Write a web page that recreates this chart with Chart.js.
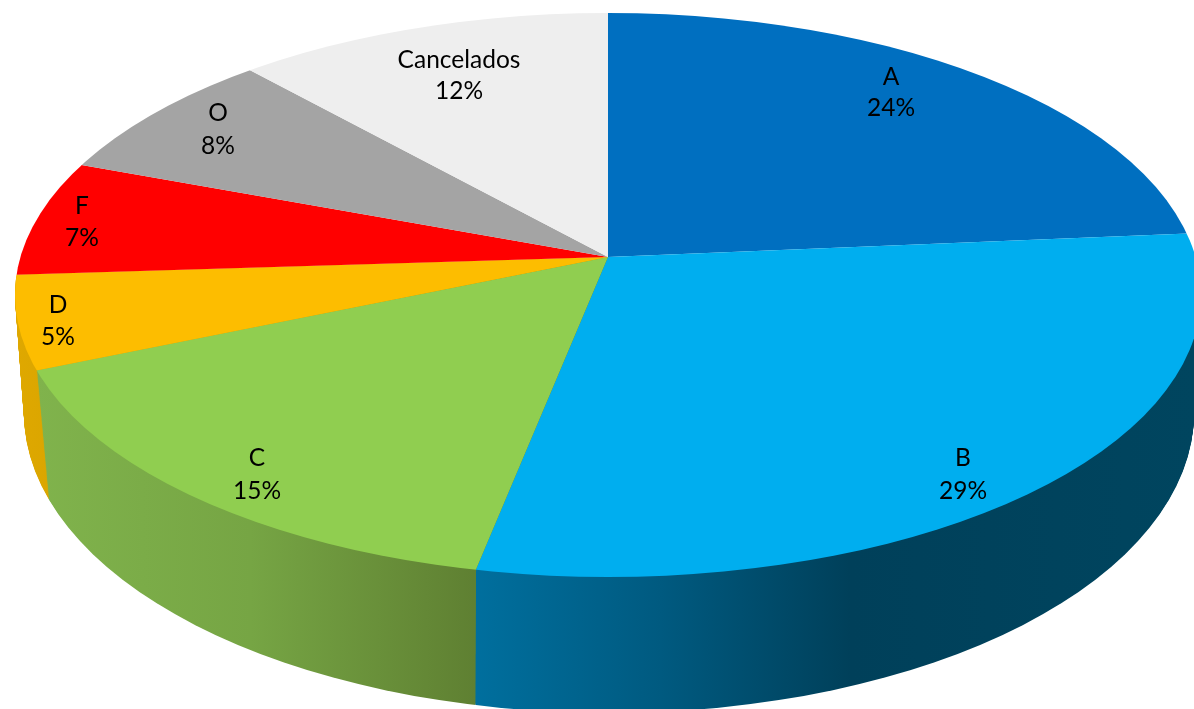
<!DOCTYPE html>
<html>
<head>
<meta charset="utf-8">
<style>html,body{margin:0;padding:0;background:#fff}canvas{display:block}</style>
<script src="https://cdn.jsdelivr.net/npm/chart.js@4/dist/chart.umd.min.js"></script>
</head>
<body>
<canvas id="c" width="1194" height="709"></canvas>
<script>
const categories = ['A', 'B', 'C', 'D', 'F', 'O', 'Cancelados'];
const shares = [23.6, 29.49, 15.49, 5.4, 6.8, 7.72, 11.5];
const faceColors = ['#006fc0', '#00aeef', '#90ce50', '#fdbd00', '#ff0000', '#a4a4a4', '#eeeeee'];

// Geometry of the perspective view (styling, not data)
const top3d = { ax: 608, ay: 257, cx: 608, cy: 295, rx: 593, ry: 282 };
const bot3d = { ax: 609, ay: 388, cx: 609, cy: 413, rx: 585, ry: 300 };
const fanX = 750, fanUp = 345, fanDown = 349;
const wallStops = {
  B: [[474, '#006f9e'], [660, '#005a80'], [850, '#00405a'], [1194, '#00455f']],
  C: [[36, '#80b34c'], [250, '#76a544'], [474, '#5f8032']],
  D: [[15, '#dfa800'], [48, '#dba600']]
};
const labelAnchors = [[891, 77], [963, 458], [257, 458], [58, 305], [82, 206], [218, 113], [459, 60.5]];
const lineGaps = [31, 33, 33, 32, 32, 33, 31];

function lerp(a, b, t) { return a + (b - a) * t; }

function drawFan(ctx, arc, g, fill) {
  // clip to the rim, then draw the library's arc stretched through the apex
  const R = arc.outerRadius;
  const saved = arc.options;
  if (fill) arc.options = Object.create(saved, { backgroundColor: { value: fill } });
  [[fanUp, -1], [fanDown, 1]].forEach(([sy, side]) => {
    if (g.lowerOnly && side < 0) return;
    ctx.save();
    ctx.beginPath();
    ctx.ellipse(g.cx, g.cy, g.rx, g.ry, 0, 0, Math.PI * 2);
    ctx.clip();
    ctx.beginPath();
    if (side < 0) ctx.rect(0, 0, 1194, g.ay); else ctx.rect(0, g.ay, 1194, 709);
    ctx.clip();
    ctx.translate(g.ax, g.ay);
    ctx.scale(fanX / R, sy / R);
    ctx.translate(-arc.x, -arc.y);
    arc.draw(ctx);
    ctx.restore();
  });
  arc.options = saved;
}

const pie3d = {
  id: 'pie3d',
  beforeDatasetsDraw(chart) {
    const ctx = chart.ctx;
    const arcs = chart.getDatasetMeta(0).data;
    const R = arcs[0].outerRadius, X0 = arcs[0].x;
    const toLocal = x => X0 + (x - top3d.ax) * R / fanX;
    // side walls: the same arcs repeated from the bottom rim up to the top face
    const walls = ['B', 'C', 'D'].map(name => {
      const stops = wallStops[name];
      const last = stops[stops.length - 1][0], first = stops[0][0];
      const grad = ctx.createLinearGradient(toLocal(first), 0, toLocal(last), 0);
      stops.forEach(s => grad.addColorStop((s[0] - first) / (last - first), s[1]));
      return { arc: arcs[categories.indexOf(name)], grad };
    });
    const steps = 134;
    for (let i = steps; i >= 0; i--) {
      const t = i / steps;
      const g = { lowerOnly: true };
      ['ax', 'ay', 'cx', 'cy', 'rx', 'ry'].forEach(k => g[k] = lerp(top3d[k], bot3d[k], t));
      walls.forEach(w => drawFan(ctx, w.arc, g, w.grad));
    }
    // top face
    arcs.forEach(arc => drawFan(ctx, arc, top3d));
    // labels
    ctx.save();
    ctx.fillStyle = '#000';
    ctx.font = '24.5px Lato';
    ctx.textAlign = 'center';
    ctx.textBaseline = 'middle';
    categories.forEach((name, i) => {
      const [x, y] = labelAnchors[i];
      ctx.fillText(name, x, y);
      ctx.fillText(Math.round(shares[i]) + '%', x, y + lineGaps[i]);
    });
    ctx.restore();
    return false;
  }
};

new Chart(document.getElementById('c'), {
  type: 'pie',
  data: {
    labels: categories,
    datasets: [{ data: shares, backgroundColor: faceColors, borderWidth: 0 }]
  },
  options: {
    responsive: false,
    animation: false,
    layout: { padding: 0 },
    plugins: { legend: { display: false }, tooltip: { enabled: false } }
  },
  plugins: [pie3d]
});
</script>
</body>
</html>
